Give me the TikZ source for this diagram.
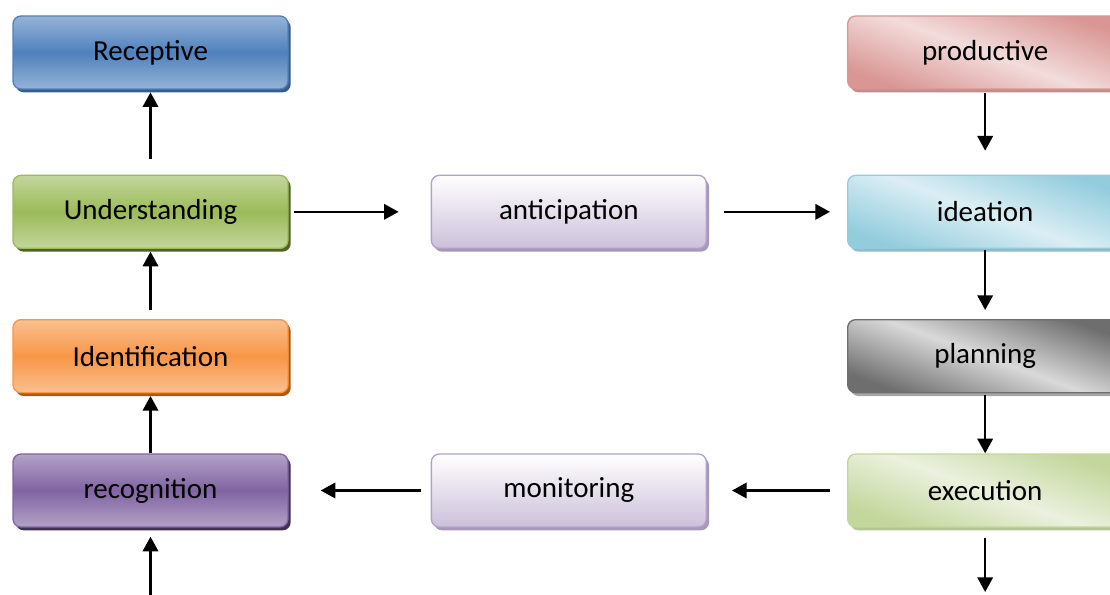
\documentclass[tikz,border=0pt]{standalone}
\usepackage{fontspec}
\setmainfont{Carlito}
\usetikzlibrary{arrows.meta, positioning, shadows}

\definecolor{rcpblue}{RGB}{79,129,189}
\definecolor{rcplight}{RGB}{149,179,215}
\definecolor{rcpdark}{RGB}{56,93,138}
\definecolor{undgreen}{RGB}{155,187,89}
\definecolor{undlight}{RGB}{195,214,155}
\definecolor{unddark}{RGB}{79,98,40}
\definecolor{idforange}{RGB}{247,150,70}
\definecolor{idflight}{RGB}{250,192,144}
\definecolor{idfdark}{RGB}{182,87,8}
\definecolor{rcgpurple}{RGB}{128,100,162}
\definecolor{rcglight}{RGB}{179,162,199}
\definecolor{rcgdark}{RGB}{63,49,81}
\definecolor{lilac}{RGB}{204,192,218}
\definecolor{lilacdark}{RGB}{166,152,186}
\definecolor{prdred}{RGB}{217,150,148}
\definecolor{prdlight}{RGB}{242,220,219}
\definecolor{ideblue}{RGB}{147,205,221}
\definecolor{idelight}{RGB}{219,238,244}
\definecolor{plngray}{RGB}{110,110,110}
\definecolor{plnlight}{RGB}{217,217,217}
\definecolor{exegreen}{RGB}{195,214,155}
\definecolor{exelight}{RGB}{235,241,222}

\tikzset{
  box/.style={
    rectangle, rounded corners=6pt, line width=1pt,
    minimum width=206.25pt, minimum height=54.75pt,
    text centered, font=\fontsize{21.75}{26}\selectfont
  },
  boxshadow/.style={
    drop shadow={shadow xshift=2pt, shadow yshift=-2.5pt, fill=#1, opacity=1}
  },
  bandbox/.style n args={3}{
    box, draw=#1, top color=#2, bottom color=#2, middle color=#1,
    boxshadow=#3
  },
  diagbox/.style n args={3}{
    box, draw=#1, top color=#1, bottom color=#1, middle color=#2,
    shading angle=-20, boxshadow=#3
  },
  lilacbox/.style={
    box, draw=rcglight, top color=white, bottom color=lilac,
    boxshadow=lilacdark
  },
  arrow/.style={-{Triangle[length=11pt, width=11.5pt]}, line width=1.9pt, black},
}

\begin{document}
\begin{tikzpicture}
  \useasboundingbox (0,0) rectangle (832.5pt,-446.25pt);
  \clip (0,0) rectangle (832.5pt,-446.25pt);

  %% Receptive side
  \node[bandbox={rcpblue}{rcplight}{rcpdark}] at (112.875pt,-39.375pt)
  (rcp)  {Receptive};
  \node[bandbox={undgreen}{undlight}{unddark}, below=63.75pt of rcp]
  (und)  {Understanding};
  \node[bandbox={idforange}{idflight}{idfdark}, below=52.5pt of und]
  (idf)  {Identification};
  \node[bandbox={rcgpurple}{rcglight}{rcgdark}, below=45pt of idf]
  (rcg)  {recognition};

  %% Middle
  \node[lilacbox, right=106.5pt of und]  (ant)  {anticipation};
  \node[lilacbox, right=106.5pt of rcg]  (mon)  {monitoring};

  %% Productive side
  \node[diagbox={ideblue}{idelight}{ideblue!80!gray}, right=105pt of ant]
  (ide)  {ideation};
  \node[diagbox={prdred}{prdlight}{prdred!70!gray}, above=63.75pt of ide]
  (prd)  {productive};
  \node[diagbox={plngray}{plnlight}{gray!70}, below=52.5pt of ide]
  (pln)  {planning};
  \node[diagbox={exegreen}{exelight}{exegreen!80!gray}, below=45pt of pln]
  (exe)  {execution};

  %% Free ends
  \coordinate (rcgin)  at (rcg.south |- 0,-446.25pt);
  \coordinate (exeout) at (exe.south |- 0,-444pt);

  %% Arrows
  \foreach \from/\to/\sa/\sb in {und.north/rcp.south/12pt/2pt,
      idf.north/und.south/6.75pt/2pt, rcg.north/idf.south/0pt/2pt,
      rcgin/rcg.south/0pt/6.75pt, und.east/ant.west/3.75pt/24pt,
      ant.east/ide.west/12.75pt/12.75pt, prd.south/ide.north/2.25pt/18pt,
      ide.south/pln.north/1pt/6.75pt, pln.south/exe.north/1.5pt/0pt,
      exe.south/exeout/7.5pt/0pt, exe.west/mon.east/12.75pt/18.75pt,
      mon.west/rcg.east/7.5pt/24pt}
  \draw[arrow, shorten <=\sa, shorten >=\sb] (\from) -- (\to);

\end{tikzpicture}
\end{document}
